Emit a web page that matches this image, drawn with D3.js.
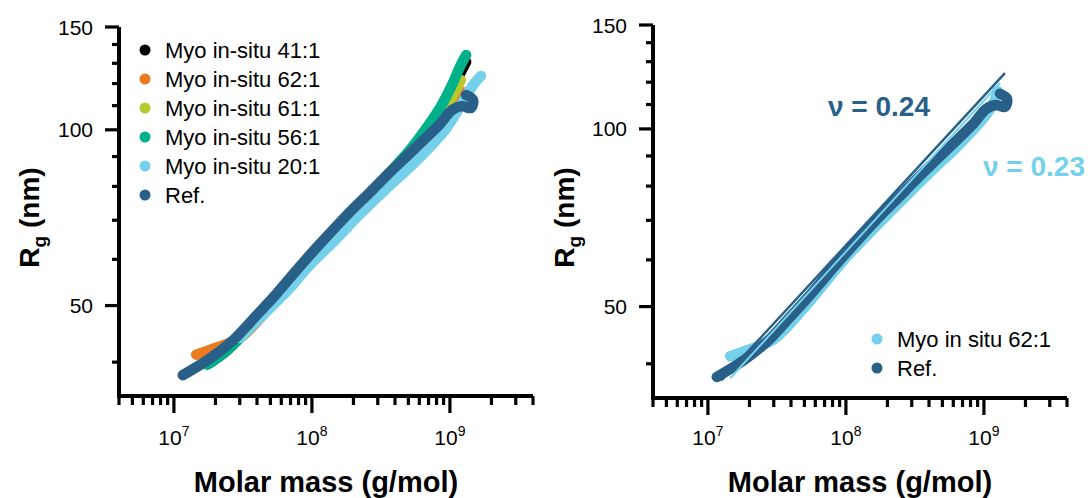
<!DOCTYPE html>
<html>
<head>
<meta charset="utf-8">
<script src="https://cdn.jsdelivr.net/npm/d3@7"></script>
<style>
  body { margin: 0; background: #fff; }
  text { font-family: "Liberation Sans", Arial, sans-serif; }
</style>
</head>
<body>
<div id="chart"></div>
<script>
// ---- data: [molar mass (g/mol), Rg (nm)] ----
const ref = [[1.16e7, 38], [1.83e7, 40.6], [2.68e7, 43.6], [3.87e7, 47.8], [5.58e7, 52.5], [8.2e7, 58.4],
  [1.14e8, 63.7], [1.8e8, 71.5], [2.64e8, 78.2], [3.68e8, 84.6], [5.14e8, 91.2], [6.8e8, 97.2],
  [8.47e8, 102.3], [1.035e9, 108.1], [1.22e9, 109.8], [1.42e9, 109], [1.47e9, 112.5], [1.31e9, 114.7]];
const myo62 = [[1.45e7, 41.2], [2e7, 42.3], [3e7, 44], [5e7, 49.8], [1e8, 60.5], [2e8, 71.5], [4e8, 84],
  [7e8, 95.3], [1.05e9, 106], [1.2e9, 112], [1.25e9, 116]];
const myo41 = [[1.8e7, 39.8], [2.34e7, 41.6], [3.27e7, 44.9], [4.97e7, 50.1], [8.2e7, 57.5], [1.35e8, 65.3],
  [2.23e8, 74.3], [3.68e8, 84.6], [5.14e8, 92], [6.6e8, 99.5], [8.47e8, 108.1], [1.035e9, 117.9],
  [1.2e9, 125.6], [1.31e9, 130.7]];
const myo61 = [[1.8e7, 40], [2.34e7, 41.6], [3.27e7, 44.9], [4.97e7, 50.1], [8.2e7, 57.5], [1.35e8, 65.3],
  [2.23e8, 74.3], [3.68e8, 84.6], [5.14e8, 91.5], [6.6e8, 98.5], [8.47e8, 106], [1.035e9, 113.8], [1.2e9, 121.7]];
const myo56 = [[1.74e7, 39.6], [2.34e7, 41.6], [3.27e7, 44.9], [4.97e7, 50.1], [8.2e7, 57.5], [1.35e8, 65.3],
  [2.23e8, 74.3], [3.68e8, 84.6], [5.14e8, 92.4], [6.6e8, 99.9], [8.47e8, 109], [1.035e9, 119.3],
  [1.18e9, 128.1], [1.31e9, 134.3]];
const myo20 = [[3.01e7, 44], [4.35e7, 48], [6.6e7, 52.9], [9.68e7, 58.7], [1.47e8, 64.7], [2.23e8, 71.7],
  [3.39e8, 78.9], [5.14e8, 86.4], [7.18e8, 93.5], [9.21e8, 99.9], [1.09e9, 106], [1.29e9, 113.4],
  [1.47e9, 119.3], [1.68e9, 123.7]];

// power-law fits (right panel), end points
const fitRef = [[1.25e7, 37.5], [1.42e9, 124.3]];
const fit62 = [[1.45e7, 37.8], [1.31e9, 119.6]];
const fitLabels = ["\u03bd = 0.24", "\u03bd = 0.23"];

const leftNames = ["Myo in-situ 41:1", "Myo in-situ 62:1", "Myo in-situ 61:1", "Myo in-situ 56:1", "Myo in-situ 20:1", "Ref."];
const leftColors = ["#000000", "#ec7b1f", "#b6c92e", "#00b18a", "#75d0eb", "#28608a"];
const leftData = [myo41, myo62, myo61, myo56, myo20, ref];
const leftOrder = [1, 0, 2, 3, 4, 5]; // drawing order (bottom -> top)

const rightNames = ["Myo in situ 62:1", "Ref."];
const rightColors = ["#75d0eb", "#28608a"];
const rightData = [myo62, ref];

const xDomain = [4e6, 4e9];
const yDomain = [35, 150];
const xMajor = [1e7, 1e8, 1e9];
const yTicks = [40, 50, 60, 70, 80, 90, 100, 110, 120, 130, 140, 150];
const yMajor = [50, 100, 150];

const W = 1091, H = 498;
const svg = d3.select("#chart").append("svg").attr("width", W).attr("height", H);

function drawPanel(p) {
  const x = d3.scaleLog().domain(xDomain).range([p.x0, p.x1]);
  const y = d3.scaleLog().domain(yDomain).range([p.y1, p.y0]);
  const g = svg.append("g");

  // x ticks
  const xt = x.ticks();
  g.selectAll(".xt").data(xt).join("line")
    .attr("x1", d => x(d)).attr("x2", d => x(d))
    .attr("y1", p.y1).attr("y2", d => p.y1 + (xMajor.includes(d) ? 17 : 9))
    .attr("stroke", "#000").attr("stroke-width", 3.2);
  const xl = g.selectAll(".xl").data(xMajor).join("text")
    .attr("x", d => x(d)).attr("y", 445)
    .attr("text-anchor", "middle").style("font-size", "21px");
  xl.append("tspan").text("10");
  xl.append("tspan").attr("dy", -9).style("font-size", "14px").text(d => Math.round(Math.log10(d)));

  // y ticks
  g.selectAll(".yt").data(yTicks).join("line")
    .attr("y1", d => y(d)).attr("y2", d => y(d))
    .attr("x1", p.x0).attr("x2", d => p.x0 - (yMajor.includes(d) ? 14 : 7))
    .attr("stroke", "#000").attr("stroke-width", 3.2);
  g.selectAll(".yl").data(yMajor).join("text")
    .attr("x", p.x0 - 26).attr("y", d => y(d) + 7.5)
    .attr("text-anchor", "end").style("font-size", "21px")
    .text(d => d);

  // axis lines
  g.append("line").attr("x1", p.x0).attr("x2", p.x0).attr("y1", p.y0).attr("y2", p.y1 + 2)
    .attr("stroke", "#000").attr("stroke-width", 4);
  g.append("line").attr("x1", p.x0 - 2).attr("x2", p.x1).attr("y1", p.y1).attr("y2", p.y1)
    .attr("stroke", "#000").attr("stroke-width", 4);

  // axis titles
  g.append("text").attr("x", (p.x0 + p.x1) / 2).attr("y", 492)
    .attr("text-anchor", "middle").style("font-size", "29px").style("font-weight", "bold")
    .text("Molar mass (g/mol)");
  const yt = g.append("text")
    .attr("transform", `translate(${p.ylabX},${(p.y0 + p.y1) / 2 + 6}) rotate(-90)`)
    .attr("text-anchor", "middle").style("font-size", "28px").style("font-weight", "bold");
  yt.append("tspan").text("R");
  yt.append("tspan").attr("dy", 7).style("font-size", "19px").text("g");
  yt.append("tspan").attr("dy", -7).text(" (nm)");

  return { x, y, g };
}

const line = (x, y) => d3.line().x(d => x(d[0])).y(d => y(d[1])).curve(d3.curveCatmullRom.alpha(0.5));

// ---- left panel ----
const L = drawPanel({ x0: 119, x1: 533, y0: 27, y1: 396, ylabX: 39 });
leftOrder.forEach(i => {
  L.g.append("path").attr("d", line(L.x, L.y)(leftData[i]))
    .attr("fill", "none").attr("stroke", leftColors[i]).attr("stroke-width", 10.5)
    .attr("stroke-linecap", "round").attr("stroke-linejoin", "round");
});
const legL = L.g.selectAll(".legL").data(leftNames).join("g")
  .attr("transform", (d, i) => `translate(145,${50 + i * 29})`);
legL.append("circle").attr("r", 5.5).attr("fill", (d, i) => leftColors[i]);
legL.append("text").attr("x", 20).attr("y", 8).style("font-size", "22px").text(d => d);

// ---- right panel ----
const R = drawPanel({ x0: 653, x1: 1067, y0: 25, y1: 398, ylabX: 574 });
rightData.forEach((s, i) => {
  R.g.append("path").attr("d", line(R.x, R.y)(s))
    .attr("fill", "none").attr("stroke", rightColors[i]).attr("stroke-width", 10.5)
    .attr("stroke-linecap", "round").attr("stroke-linejoin", "round");
});
[fitRef, fit62].forEach((s, i) => {
  R.g.append("path").attr("d", d3.line().x(d => R.x(d[0])).y(d => R.y(d[1]))(s))
    .attr("fill", "none").attr("stroke", i === 0 ? rightColors[1] : rightColors[0])
    .attr("stroke-width", i === 0 ? 2.5 : 2);
});
R.g.append("text").attr("x", 828).attr("y", 116).attr("fill", rightColors[1])
  .style("font-size", "28px").style("font-weight", "bold").text(fitLabels[0]);
R.g.append("text").attr("x", 983).attr("y", 176).attr("fill", rightColors[0])
  .style("font-size", "28px").style("font-weight", "bold").text(fitLabels[1]);

const legR = R.g.selectAll(".legR").data(rightNames).join("g")
  .attr("transform", (d, i) => `translate(877,${339 + i * 29})`);
legR.append("circle").attr("r", 5.5).attr("fill", (d, i) => rightColors[i]);
legR.append("text").attr("x", 20).attr("y", 8).style("font-size", "22px").text(d => d);
</script>
</body>
</html>
